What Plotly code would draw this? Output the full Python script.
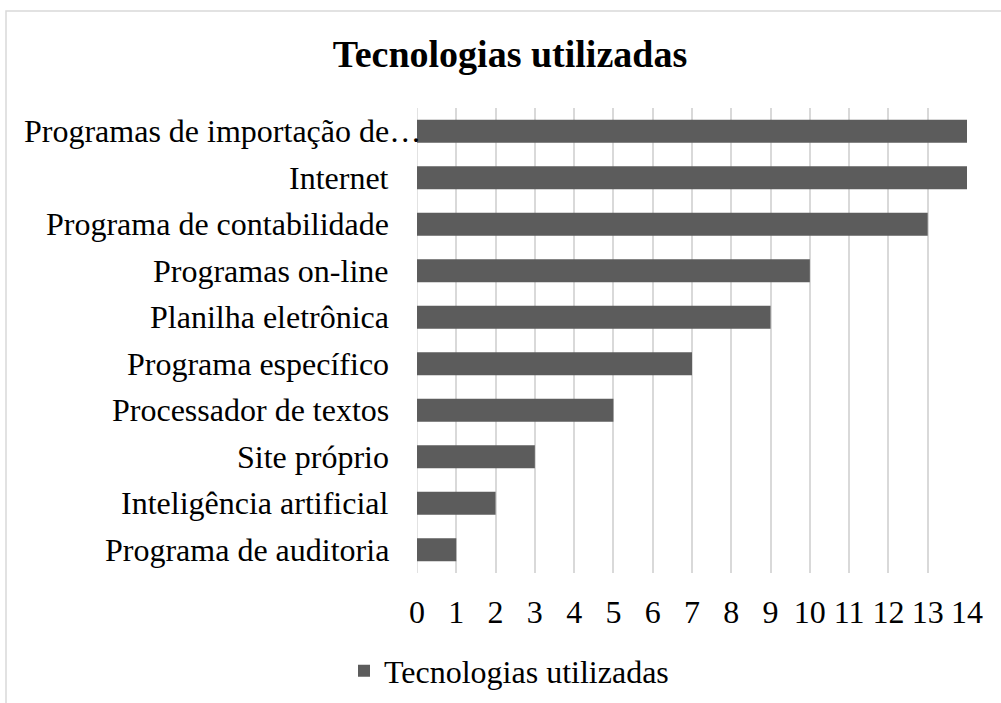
import plotly.graph_objects as go

categories = [
    "Programa de auditoria",
    "Inteligência artificial",
    "Site próprio",
    "Processador de textos",
    "Programa específico",
    "Planilha eletrônica",
    "Programas on-line",
    "Programa de contabilidade",
    "Internet",
    "Programas de importação de…",
]
values = [1, 2, 3, 5, 7, 9, 10, 13, 14, 14]
series_name = "Tecnologias utilizadas"
title_text = "Tecnologias utilizadas"
x_ticks = list(range(0, 15))

FONT = "Liberation Serif, Times New Roman, serif"
W, H = 1001, 703
ML, MR, MT, MB = 417, 34, 108, 130
PW = W - ML - MR
PH = H - MT - MB

def px_x(p):
    return (p - ML) / PW

def px_y(p):
    return (H - MB - p) / PH

fig = go.Figure()
fig.add_trace(go.Bar(
    y=categories,
    x=values,
    orientation="h",
    name=series_name,
    marker=dict(color="#5c5c5c", line=dict(width=0)),
    showlegend=True,
))

# category labels (the truncated one overflows up to the axis, as in the reference)
annotations = []
for cat in categories:
    right_px = 423 if cat.endswith("…") else 391
    annotations.append(dict(
        text=cat,
        xref="paper",
        yref="y",
        x=px_x(right_px),
        y=cat,
        xanchor="right",
        yanchor="middle",
        showarrow=False,
        font=dict(family=FONT, size=32, color="black"),
    ))

fig.update_layout(
    width=W,
    height=H,
    margin=dict(l=ML, r=MR, t=MT, b=MB, autoexpand=False),
    paper_bgcolor="white",
    plot_bgcolor="white",
    font=dict(family=FONT, size=32, color="black"),
    bargap=0.51,
    title=dict(
        text="<b>" + title_text + "</b>",
        font=dict(family=FONT, size=38, color="black"),
        x=510 / W,
        xanchor="center",
        xref="container",
        y=1 - 54 / H,
        yanchor="middle",
        yref="container",
    ),
    xaxis=dict(
        range=[0, 14],
        tickvals=x_ticks,
        ticktext=[str(v) for v in x_ticks],
        showgrid=True,
        gridcolor="#d9d9d9",
        gridwidth=1.5,
        zeroline=False,
        showline=False,
        ticks="",
        ticklabelstandoff=17,
        tickfont=dict(family=FONT, size=32, color="black"),
        fixedrange=True,
    ),
    yaxis=dict(
        categoryorder="array",
        categoryarray=categories,
        showgrid=False,
        zeroline=False,
        showline=False,
        ticks="",
        showticklabels=False,
        fixedrange=True,
    ),
    legend=dict(
        orientation="h",
        x=px_x(344),
        xanchor="left",
        y=px_y(671),
        yanchor="middle",
        font=dict(family=FONT, size=32, color="black"),
        bgcolor="rgba(0,0,0,0)",
        itemwidth=30,
    ),
    annotations=annotations,
    shapes=[
        dict(
            type="rect",
            xref="paper",
            yref="paper",
            x0=px_x(6),
            x1=px_x(1015),
            y0=px_y(715),
            y1=px_y(11),
            line=dict(color="#d9d9d9", width=1.5),
            fillcolor="rgba(0,0,0,0)",
            layer="below",
        ),
        dict(
            type="line",
            xref="x",
            yref="paper",
            x0=0, x1=0, y0=0, y1=1,
            line=dict(color="#d9d9d9", width=1.5),
            layer="below",
        ),
    ],
)

fig.write_html(
    "out.html",
    config={"displayModeBar": False},
    post_script="document.body.style.margin='0px';",
)
